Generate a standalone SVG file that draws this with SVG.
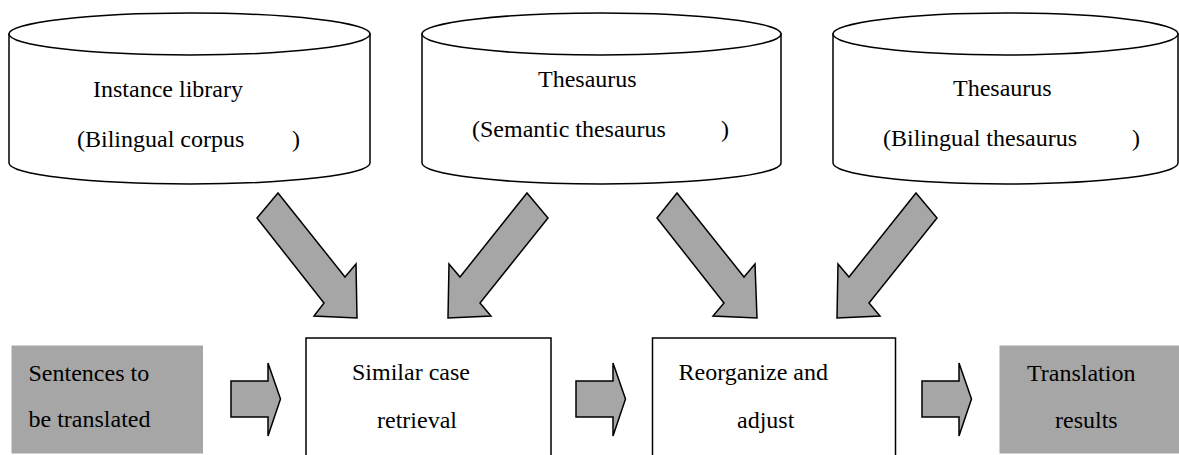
<svg xmlns="http://www.w3.org/2000/svg" width="1179" height="455" viewBox="0 0 1179 455" font-family="Liberation Serif, serif">
<defs>
<path id="harrow" d="M0,0 L37,0 L37,-18 L49.5,18 L37,55 L37,36 L0,36 Z"/>
</defs>
<rect width="1179" height="455" fill="#fff"/>
<g id="instance-library" fill="#fff" stroke="#000" stroke-width="1.5">
<path d="M9,34 L9,163 A180.5,21 0 0 0 370,163 L370,34 Z"/>
<ellipse cx="189.5" cy="34" rx="180.5" ry="21"/>
<text x="93" y="97" style="font-family:'Liberation Serif',serif;font-size:24px;fill:#000;stroke:none">Instance library</text>
<text x="77" y="147" style="font-family:'Liberation Serif',serif;font-size:24px;fill:#000;stroke:none">(Bilingual corpus</text>
<text x="292" y="147" style="font-family:'Liberation Serif',serif;font-size:24px;fill:#000;stroke:none">)</text>
</g>
<g id="semantic-thesaurus" fill="#fff" stroke="#000" stroke-width="1.5">
<path d="M422,34 L422,163 A179.5,21 0 0 0 781,163 L781,34 Z"/>
<ellipse cx="601.5" cy="34" rx="179.5" ry="21"/>
<text x="538" y="87" style="font-family:'Liberation Serif',serif;font-size:24px;fill:#000;stroke:none">Thesaurus</text>
<text x="472" y="137" style="font-family:'Liberation Serif',serif;font-size:24px;fill:#000;stroke:none">(Semantic thesaurus</text>
<text x="721" y="137" style="font-family:'Liberation Serif',serif;font-size:24px;fill:#000;stroke:none">)</text>
</g>
<g id="bilingual-thesaurus" fill="#fff" stroke="#000" stroke-width="1.5">
<path d="M833,34 L833,163 A172.5,21 0 0 0 1178,163 L1178,34 Z"/>
<ellipse cx="1005.5" cy="34" rx="172.5" ry="21"/>
<text x="953" y="96" style="font-family:'Liberation Serif',serif;font-size:24px;fill:#000;stroke:none">Thesaurus</text>
<text x="883" y="146" style="font-family:'Liberation Serif',serif;font-size:24px;fill:#000;stroke:none">(Bilingual thesaurus</text>
<text x="1132" y="146" style="font-family:'Liberation Serif',serif;font-size:24px;fill:#000;stroke:none">)</text>
</g>
<g id="sentences">
<rect x="11.5" y="345.5" width="191.5" height="108" fill="#a6a6a6"/>
<text x="28.5" y="381" style="font-family:'Liberation Serif',serif;font-size:24px;fill:#000">Sentences to</text>
<text x="28.5" y="427" style="font-family:'Liberation Serif',serif;font-size:24px;fill:#000">be translated</text>
</g>
<g id="retrieval">
<path d="M306,456 L306,338 L551,338 L551,456" fill="#fff" stroke="#000" stroke-width="1.5"/>
<text x="352" y="380" style="font-family:'Liberation Serif',serif;font-size:24px;fill:#000">Similar case</text>
<text x="377" y="428" style="font-family:'Liberation Serif',serif;font-size:24px;fill:#000">retrieval</text>
</g>
<g id="reorganize">
<path d="M652.5,456 L652.5,338 L895.5,338 L895.5,456" fill="#fff" stroke="#000" stroke-width="1.5"/>
<text x="678.5" y="380" style="font-family:'Liberation Serif',serif;font-size:24px;fill:#000">Reorganize and</text>
<text x="737" y="428" style="font-family:'Liberation Serif',serif;font-size:24px;fill:#000">adjust</text>
</g>
<g id="results">
<rect x="999.5" y="345.5" width="180" height="108" fill="#a6a6a6"/>
<text x="1027" y="380.5" style="font-family:'Liberation Serif',serif;font-size:24px;fill:#000">Translation</text>
<text x="1055" y="427.5" style="font-family:'Liberation Serif',serif;font-size:24px;fill:#000">results</text>
</g>
<g id="connectors" fill="#a6a6a6" stroke="#000" stroke-width="1.5">
<polygon points="278,193 345,277 356,264 357,318 314,316 324,303 257,218"/>
<polygon points="527,193 548,218 480,303 491,316 448,318 449,264 460,277"/>
<polygon points="677,193 744,277 755,264 757,318 713,316 724,303 657,218"/>
<polygon points="916,193 937,218 869,303 880,316 837,318 838,264 849,277"/>
<use href="#harrow" x="231" y="381"/>
<use href="#harrow" x="576" y="381"/>
<use href="#harrow" x="922" y="381"/>
</g>
</svg>
